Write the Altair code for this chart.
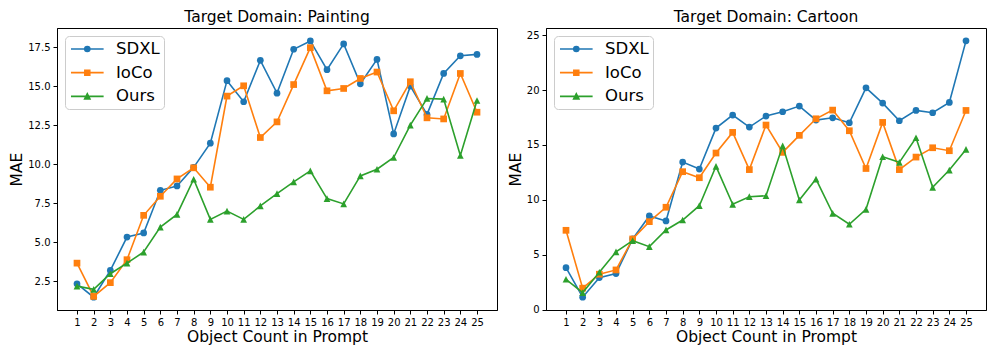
import altair as alt
import pandas as pd

counts = list(range(1, 26))
series_names = ["SDXL", "IoCo", "Ours"]
series_colors = ["#1f77b4", "#ff7f0e", "#2ca02c"]

painting_sdxl = [2.35, 1.49, 3.2, 5.34, 5.6, 8.33, 8.61, 9.8, 11.35, 15.35, 14.0, 16.65, 14.55,
                 17.36, 17.89, 16.05, 17.7, 15.15, 16.71, 11.94, 15.0, 13.19, 15.81, 16.94, 17.03]
painting_ioco = [3.67, 1.54, 2.42, 3.89, 6.73, 7.95, 9.06, 9.77, 8.53, 14.36, 15.02, 11.71, 12.71,
                 15.1, 17.46, 14.7, 14.85, 15.49, 15.9, 13.42, 15.28, 12.97, 12.9, 15.81, 13.33]
painting_ours = [2.2, 1.99, 2.99, 3.67, 4.38, 5.98, 6.79, 9.04, 6.47, 7.0, 6.47, 7.33, 8.12,
                 8.87, 9.57, 7.8, 7.46, 9.25, 9.68, 10.43, 12.5, 14.21, 14.17, 10.56, 14.08]

cartoon_sdxl = [3.82, 1.13, 2.91, 3.28, 6.43, 8.53, 8.07, 13.44, 12.8, 16.53, 17.72, 16.62, 17.63,
                18.02, 18.54, 17.26, 17.47, 17.02, 20.2, 18.81, 17.2, 18.14, 17.93, 18.87, 24.48]
cartoon_ioco = [7.22, 1.95, 3.22, 3.61, 6.43, 8.01, 9.32, 12.56, 12.01, 14.26, 16.14, 12.75, 16.81,
                14.32, 15.87, 17.38, 18.17, 16.29, 12.85, 17.05, 12.75, 13.89, 14.74, 14.47, 18.14]
cartoon_ours = [2.76, 1.55, 3.4, 5.25, 6.28, 5.73, 7.25, 8.16, 9.46, 13.05, 9.59, 10.28, 10.37,
                14.92, 9.98, 11.89, 8.77, 7.77, 9.13, 13.92, 13.41, 15.65, 11.14, 12.71, 14.59]

painting_ticks = [2.5, 5.0, 7.5, 10.0, 12.5, 15.0, 17.5]
cartoon_ticks = [0, 5, 10, 15, 20, 25]

FONT = "DejaVu Sans"

marker_shapes = ["circle", "square", "M0,-1L1,1L-1,1Z"]
legend_shapes = [
    "M-2.04,0H2.04M0.31,0A0.31,0.31,0,1,1,-0.31,0A0.31,0.31,0,1,1,0.31,0Z",
    "M-2.04,0H2.04M-0.3,-0.3H0.3V0.3H-0.3Z",
    "M-2.04,0H2.04M0,-0.32L0.32,0.3L-0.32,0.3Z",
]


def make_df(series_values):
    rows = []
    for name, vals in zip(series_names, series_values):
        for c, v in zip(counts, vals):
            rows.append({"count": c, "mae": v, "series": name})
    return pd.DataFrame(rows)


def panel(df, title, y_domain, y_ticks, y_format):
    x = alt.X("count:Q",
              scale=alt.Scale(domain=[-0.2, 26.2], nice=False, zero=False),
              axis=alt.Axis(values=counts, format="d", title="Object Count in Prompt",
                            titlePadding=2, labelFlush=False))
    y = alt.Y("mae:Q",
              scale=alt.Scale(domain=y_domain, nice=False, zero=False),
              axis=alt.Axis(values=y_ticks, format=y_format, title="MAE", titlePadding=3))
    color = alt.Color("series:N",
                      scale=alt.Scale(domain=series_names, range=series_colors),
                      legend=None)
    layers = []
    for name, shp in zip(series_names, marker_shapes):
        base = alt.Chart(df).transform_filter(alt.datum.series == name)
        layers.append(base.mark_line(strokeWidth=1.6).encode(x=x, y=y, color=color))
        layers.append(base.mark_point(shape=shp, filled=True, size=45, opacity=1,
                                      strokeWidth=0).encode(x=x, y=y, color=color))
    leg = alt.Legend(title=None, orient="top-left", offset=8, padding=4,
                     symbolSize=256, symbolStrokeWidth=1.7, symbolOffset=9.3,
                     labelOffset=19.7, labelFontSize=16.5, labelFont=FONT,
                     labelColor="black", rowPadding=5.7, strokeColor="#cccccc",
                     fillColor="white", cornerRadius=4, symbolOpacity=1)
    legend_layer = alt.Chart(df).transform_filter("false").mark_point(
        filled=True, opacity=1, strokeWidth=1.7
    ).encode(
        shape=alt.Shape("series:N", scale=alt.Scale(domain=series_names, range=legend_shapes), legend=leg),
        fill=alt.Fill("series:N", scale=alt.Scale(domain=series_names, range=series_colors), legend=leg),
        stroke=alt.Stroke("series:N", scale=alt.Scale(domain=series_names, range=series_colors), legend=leg),
    )
    layers.append(legend_layer)
    return alt.layer(*layers).properties(width=440, height=282, title=title)


left = panel(make_df([painting_sdxl, painting_ioco, painting_ours]),
             "Target Domain: Painting", [0.67, 18.72], painting_ticks, ".1f")
right = panel(make_df([cartoon_sdxl, cartoon_ioco, cartoon_ours]),
              "Target Domain: Cartoon", [-0.04, 25.65], cartoon_ticks, "d")

chart = alt.hconcat(left, right, spacing=9).resolve_scale(
    fill="independent", stroke="independent", shape="independent"
).resolve_legend(
    fill="independent", stroke="independent", shape="independent"
).properties(
    padding={"left": 1, "top": 1, "right": 2, "bottom": 0}
).configure_view(
    stroke="black", strokeWidth=1
).configure_axis(
    domainColor="black", tickColor="black", labelColor="black", titleColor="black",
    labelFont=FONT, titleFont=FONT, labelFontSize=10, titleFontSize=15.5,
    titleFontWeight="normal", tickSize=4, labelPadding=3, grid=False,
    domainWidth=1, tickWidth=1
).configure_title(
    font=FONT, fontSize=15.5, fontWeight="normal", color="black", offset=3,
    anchor="middle", frame="group"
)

chart.save("out.html", embed_options={"renderer": "svg", "actions": False})
